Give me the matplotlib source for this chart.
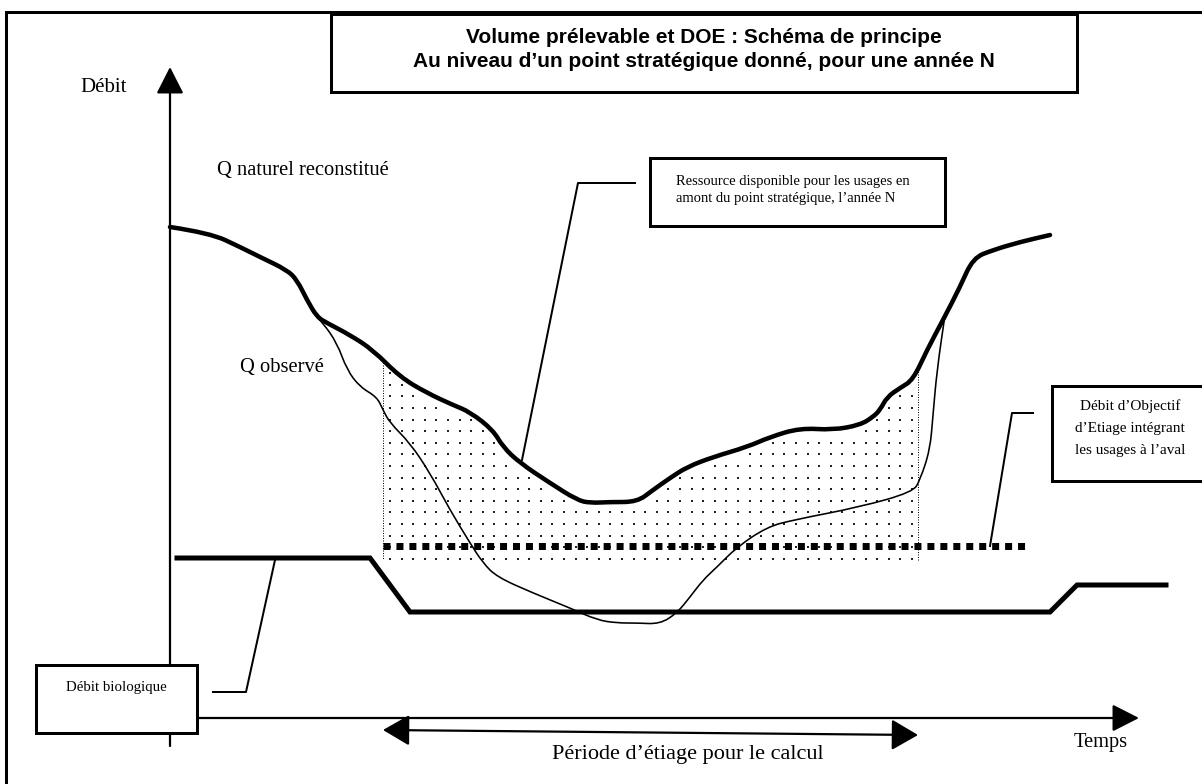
import numpy as np
import matplotlib.pyplot as plt
from matplotlib.patches import Rectangle, PathPatch
from matplotlib.path import Path

# schematic traced in pixel units of the original figure (x right, y down)
q_nat_x = [170, 210, 240, 260, 287, 297, 307, 317, 327, 350, 373, 400, 427, 453, 470, 493, 503,
           520, 550, 577, 590, 610, 637, 653, 670, 687, 713, 747, 770, 800, 833, 860, 873, 880,
           887, 900, 913, 927, 943, 960, 973, 993, 1020, 1050]
q_nat_y = [227, 233, 247, 257, 270, 280, 300, 317, 323, 335, 350, 377, 393, 405, 412, 430, 447,
           463, 483, 500, 503, 502, 502, 490, 478, 467, 457, 447, 437, 428, 430, 425, 417, 410,
           397, 388, 380, 350, 320, 287, 258, 250, 242, 235]

q_obs_x = [317, 323, 337, 347, 360, 377, 383, 390, 410, 430, 450, 470, 483, 497, 533, 570, 597,
           617, 637, 660, 677, 690, 703, 717, 737, 767, 793, 860, 913, 920, 930, 933, 937, 945]
q_obs_y = [317, 323, 343, 370, 387, 397, 410, 423, 443, 473, 510, 543, 563, 577, 593, 608, 620,
           623, 623, 624, 613, 597, 580, 567, 547, 527, 520, 507, 492, 480, 450, 415, 370, 315]

bio_x = [177, 370, 410, 1050, 1077, 1166]
bio_y = [558, 558, 612, 612, 585, 585]

doe_x = [383, 1025]
doe_y = [546, 546]

period_start, period_end = 383, 918
dots_bottom = 560


def curve(ax, xs, ys, lw):
    # quadratic Bezier pieces through the midpoints of the traced points
    pts = list(zip(xs, ys))
    verts, codes = [pts[0]], [Path.MOVETO]
    for i in range(1, len(pts) - 1):
        mid = ((pts[i][0] + pts[i + 1][0]) / 2, (pts[i][1] + pts[i + 1][1]) / 2)
        verts += [pts[i], mid]
        codes += [Path.CURVE3, Path.CURVE3]
    verts.append(pts[-1])
    codes.append(Path.LINETO)
    ax.add_patch(PathPatch(Path(verts, codes), fill=False, ec='k', lw=lw,
                           capstyle='round', joinstyle='round', zorder=3))


fig = plt.figure(figsize=(12.02, 7.84), dpi=100)
ax = fig.add_axes([0, 0, 1, 1])
ax.set_xlim(0, 1202)
ax.set_ylim(784, 0)
ax.axis('off')

px = 0.72  # one pixel in points
serif = 'Liberation Serif'

# outer frame
ax.plot([6, 6, 1202], [784, 12, 12], color='k', lw=3 * px, solid_joinstyle='miter')

# dotted area between natural flow and DOE, during the low-water period
gx, gy = np.meshgrid(np.arange(period_start + 7, period_end, 11.6), np.arange(350, dots_bottom, 11.6))
gx, gy = gx.ravel(), gy.ravel()
top = np.interp(gx, q_nat_x, q_nat_y)
keep = gy > top + 6
ax.scatter(gx[keep], gy[keep], s=3, marker='s', color='#222222', lw=0, zorder=2)
for xb in (period_start, period_end):
    yb = np.interp(xb, q_nat_x, q_nat_y)
    ax.plot([xb, xb], [yb, dots_bottom], color='k', lw=1 * px, ls=(0, (1, 1.5)), zorder=2)

# curves
curve(ax, q_nat_x, q_nat_y, 4.5 * px)
curve(ax, q_obs_x, q_obs_y, 1.6 * px)
ax.plot(bio_x, bio_y, color='k', lw=5 * px, solid_joinstyle='miter', zorder=3)
ax.plot(doe_x, doe_y, color='k', lw=7 * px, ls=(0, (1, 0.85)), solid_capstyle='butt', zorder=3)

# axes
head = dict(arrowstyle='-|>,head_length=0.55,head_width=0.28', mutation_scale=30,
            color='k', lw=1.6, shrinkA=0, shrinkB=0)
ax.annotate('', xy=(170, 67), xytext=(170, 746), arrowprops=head, zorder=1)
ax.annotate('', xy=(1139, 718), xytext=(190, 718), arrowprops=head, zorder=1)
both = dict(head, arrowstyle='<|-|>,head_length=0.55,head_width=0.32')
ax.annotate('', xy=(period_end, 735), xytext=(period_start, 730), arrowprops=both, zorder=1)

ax.text(80, 87, 'Débit', family=serif, fontsize=15, va='center', ha='left')
ax.text(1074, 742, 'Temps', family=serif, fontsize=14.7, va='center', ha='left')
ax.text(688, 755, 'Période d\u2019étiage pour le calcul', family=serif, fontsize=16, va='center', ha='center')
ax.text(217, 170, 'Q naturel reconstitué', family=serif, fontsize=14.8, va='center', ha='left')
ax.text(240, 367, 'Q observé', family=serif, fontsize=14.8, va='center', ha='left')

# title box
ax.add_patch(Rectangle((331, 14), 746, 78, fill=True, fc='white', ec='k', lw=3 * px, zorder=4))
ax.text(704, 37, 'Volume prélevable et DOE : Schéma de principe', family='Liberation Sans',
        weight='bold', fontsize=15, ha='center', va='center', zorder=5)
ax.text(704, 61, 'Au niveau d\u2019un point stratégique donné, pour une année N', family='Liberation Sans',
        weight='bold', fontsize=15, ha='center', va='center', zorder=5)

# call-out boxes and their leader lines
ax.plot([635, 578, 522], [183, 183, 460], color='k', lw=2 * px, zorder=3)
ax.add_patch(Rectangle((650, 158), 295, 68, fc='white', ec='k', lw=3 * px, zorder=4))
ax.text(676, 190, 'Ressource disponible pour les usages en\namont du point stratégique, l\u2019année N',
        family=serif, fontsize=10.5, ha='left', va='center', linespacing=1.32, zorder=5)

ax.plot([1033, 1012, 990], [413, 413, 546], color='k', lw=2 * px, zorder=3)
ax.add_patch(Rectangle((1052, 386), 160, 95, fc='white', ec='k', lw=3 * px, zorder=4))
ax.text(1130, 428, 'Débit d\u2019Objectif\nd\u2019Etiage intégrant\nles usages à l\u2019aval',
        family=serif, fontsize=11, ha='center', va='center', linespacing=1.9, zorder=5)

ax.plot([213, 246, 275], [692, 692, 560], color='k', lw=2 * px, zorder=3)
ax.add_patch(Rectangle((36, 665), 161, 68, fc='white', ec='k', lw=3 * px, zorder=4))
ax.text(116, 688, 'Débit biologique', family=serif, fontsize=10.7, ha='center', va='center', zorder=5)

plt.savefig('out.png', dpi=100)
